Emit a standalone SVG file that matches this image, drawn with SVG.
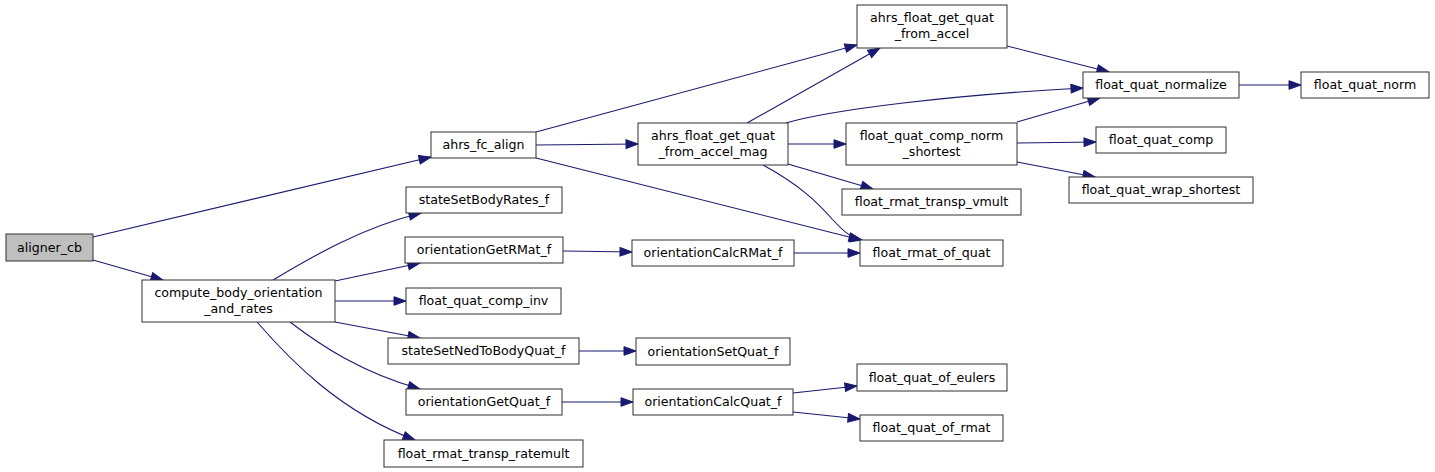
<svg xmlns="http://www.w3.org/2000/svg" width="1435" height="472" viewBox="0 0 1435 472">
<defs>
<style>
.n rect{fill:#fff;stroke:#303030;stroke-width:1}
.n text{font-family:"DejaVu Sans",sans-serif;font-size:12.6px;fill:#000;text-anchor:middle}
#edges path{fill:none;stroke:#191970;stroke-width:1.1;marker-end:url(#ah)}
</style>
<marker id="ah" markerUnits="userSpaceOnUse" markerWidth="15" markerHeight="11" refX="13" refY="5" orient="auto">
<path d="M1,0.7 L13,5 L1,9.3 z" fill="#191970" stroke="#191970" stroke-width="1"/>
</marker>
</defs>
<rect width="1435" height="472" fill="#fff"/>
<g id="edges">
<path d="M93,237 L431,157"/>
<path d="M93,260 L163,280"/>
<path d="M273,280 C310,258 360,228 421,213"/>
<path d="M335,281 L420,263"/>
<path d="M335,301 L406,301"/>
<path d="M335,322 L420,338"/>
<path d="M290,322 C320,345 360,372 420,389"/>
<path d="M257,322 C290,360 340,412 415,440"/>
<path d="M536,132 L857,45"/>
<path d="M536,145 L638,144"/>
<path d="M536,158 L861,240"/>
<path d="M747,123 L880,48"/>
<path d="M786,123 C830,110 950,95 1083,88"/>
<path d="M788,144 L846,144"/>
<path d="M788,164 L873,189"/>
<path d="M763,165 C800,185 818,203 833,220 C845,233 852,238 862,240"/>
<path d="M1007,46 L1109,72"/>
<path d="M1017,122 L1100,98"/>
<path d="M1017,143 L1096,142"/>
<path d="M1017,162 L1095,177"/>
<path d="M1239,85 L1301,85"/>
<path d="M563,251 L632,252"/>
<path d="M794,253 L860,253"/>
<path d="M579,351 L636,351"/>
<path d="M562,402 L633,402"/>
<path d="M793,393 L857,386"/>
<path d="M793,412 L860,419"/>
</g>
<g id="aligner_cb" class="n"><rect x="6" y="234" width="87" height="27" style="fill:#bfbfbf"/><text x="49.5" y="252">aligner_cb</text></g>
<g id="compute_body_orientation_and_rates" class="n"><rect x="142" y="280" width="193" height="42"/><text x="238.5" y="297">compute_body_orientation</text><text x="238.5" y="313">_and_rates</text></g>
<g id="ahrs_fc_align" class="n"><rect x="431" y="132" width="105" height="26"/><text x="483.5" y="149">ahrs_fc_align</text></g>
<g id="stateSetBodyRates_f" class="n"><rect x="406" y="187" width="156" height="26"/><text x="484" y="204">stateSetBodyRates_f</text></g>
<g id="ahrs_float_get_quat_from_accel_mag" class="n"><rect x="638" y="123" width="150" height="42"/><text x="713" y="140">ahrs_float_get_quat</text><text x="713" y="156">_from_accel_mag</text></g>
<g id="ahrs_float_get_quat_from_accel" class="n"><rect x="857" y="5" width="150" height="43"/><text x="932" y="22">ahrs_float_get_quat</text><text x="932" y="38">_from_accel</text></g>
<g id="float_quat_normalize" class="n"><rect x="1083" y="72" width="156" height="26"/><text x="1161" y="89">float_quat_normalize</text></g>
<g id="float_quat_norm" class="n"><rect x="1301" y="72" width="128" height="26"/><text x="1365" y="89">float_quat_norm</text></g>
<g id="float_quat_comp_norm_shortest" class="n"><rect x="846" y="123" width="171" height="42"/><text x="931.5" y="140">float_quat_comp_norm</text><text x="931.5" y="156">_shortest</text></g>
<g id="float_quat_comp" class="n"><rect x="1096" y="127" width="130" height="26"/><text x="1161" y="144">float_quat_comp</text></g>
<g id="float_quat_wrap_shortest" class="n"><rect x="1069" y="177" width="184" height="26"/><text x="1161" y="194">float_quat_wrap_shortest</text></g>
<g id="float_rmat_transp_vmult" class="n"><rect x="842" y="189" width="179" height="26"/><text x="931.5" y="206">float_rmat_transp_vmult</text></g>
<g id="float_rmat_of_quat" class="n"><rect x="860" y="240" width="143" height="26"/><text x="931.5" y="257">float_rmat_of_quat</text></g>
<g id="orientationGetRMat_f" class="n"><rect x="405" y="237" width="158" height="26"/><text x="484" y="254">orientationGetRMat_f</text></g>
<g id="orientationCalcRMat_f" class="n"><rect x="632" y="240" width="162" height="26"/><text x="713" y="257">orientationCalcRMat_f</text></g>
<g id="float_quat_comp_inv" class="n"><rect x="406" y="288" width="155" height="26"/><text x="483.5" y="305">float_quat_comp_inv</text></g>
<g id="stateSetNedToBodyQuat_f" class="n"><rect x="388" y="338" width="191" height="26"/><text x="483.5" y="355">stateSetNedToBodyQuat_f</text></g>
<g id="orientationSetQuat_f" class="n"><rect x="636" y="338" width="154" height="27"/><text x="713" y="356">orientationSetQuat_f</text></g>
<g id="orientationGetQuat_f" class="n"><rect x="406" y="389" width="156" height="26"/><text x="484" y="406">orientationGetQuat_f</text></g>
<g id="orientationCalcQuat_f" class="n"><rect x="633" y="389" width="160" height="26"/><text x="713" y="406">orientationCalcQuat_f</text></g>
<g id="float_rmat_transp_ratemult" class="n"><rect x="384" y="440" width="199" height="27"/><text x="483.5" y="458">float_rmat_transp_ratemult</text></g>
<g id="float_quat_of_eulers" class="n"><rect x="857" y="364" width="150" height="27"/><text x="932" y="382">float_quat_of_eulers</text></g>
<g id="float_quat_of_rmat" class="n"><rect x="860" y="415" width="143" height="26"/><text x="931.5" y="432">float_quat_of_rmat</text></g>
</svg>
